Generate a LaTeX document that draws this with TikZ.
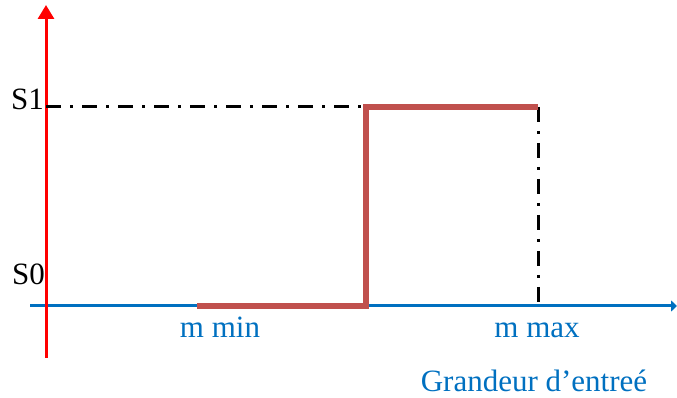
\documentclass[tikz,border=0pt]{standalone}
\usepackage{fontspec}
\setmainfont{Liberation Serif}
\usetikzlibrary{arrows.meta}
\definecolor{axisblue}{HTML}{0070C0}
\definecolor{stepred}{HTML}{C0504D}
\tikzset{
  yaxis/.style   = { line width=3pt, red, -{Triangle[length=14pt,width=16pt]} },
  xaxis/.style   = { line width=3pt, axisblue, -{Triangle[length=6pt,width=11pt]} },
  level/.style   = { line width=6pt, stepred },
  connect/.style = { line width=3pt, black, dash pattern=on 15pt off 9pt on 3pt off 9pt },
  label/.style   = { font=\fontsize{31}{36}\selectfont, inner sep=0pt },
  bluelabel/.style = { label, text=axisblue }
}
\begin{document}
\begin{tikzpicture}[x=1pt,y=1pt]
  \useasboundingbox (0,0) rectangle (677,398);
  % Axes
  \coordinate (ybot) at (46,40);
  \coordinate (ytop) at (46,393);
  \coordinate (xleft) at (30,92);
  \coordinate (xright) at (677,92);
  \coordinate (s1) at (46,291);
  \draw[xaxis] (xleft) -- (xright);
  \draw[yaxis] (ybot) -- (ytop);
  % Step curve
  \coordinate (mmin) at (197,92);
  \coordinate (jumplow) at (366,92);
  \coordinate (jumphigh) at (366,291);
  \coordinate (mmax) at (538,291);
  \coordinate (mmaxaxis) at (538,92);
  \draw[connect] (s1) -- (jumphigh);
  \draw[connect] (mmax) -- (mmaxaxis);
  \draw[level] (mmin) -- (jumplow) -- (jumphigh) -- (mmax);
  % Draw labels
  \node[label, anchor=base east] (labs1) at (44,288) {S1};
  \node[label, anchor=base east] (labs0) at (45,113) {S0};
  \node[bluelabel, anchor=base] (labmin) at (220,60) {m min};
  \node[bluelabel, anchor=base] (labmax) at (537,60) {m max};
  \node[bluelabel, anchor=base] (labin) at (534,6) {Grandeur d’entreé};
\end{tikzpicture}
\end{document}
